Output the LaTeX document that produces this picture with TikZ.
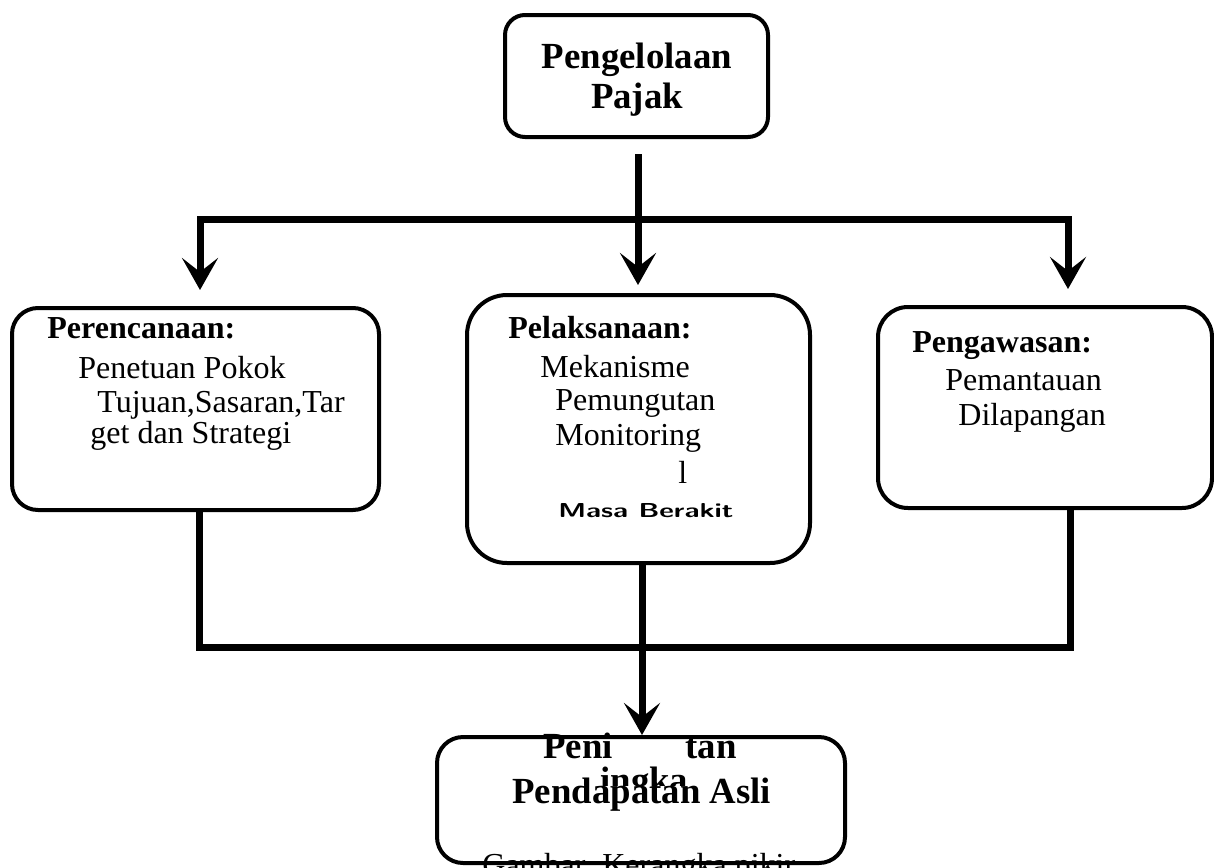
\documentclass[tikz,border=0pt]{standalone}
\usepackage{fontspec}
\setmainfont{Liberation Serif}
\usetikzlibrary{positioning, arrows.meta}
\tikzset{box/.style={draw, line width=2pt, inner sep=0pt},
         link/.style={line width=3.5pt},
         head/.style={-{Stealth[length=16pt, width=18pt, inset=7pt]}},
         txt/.style={anchor=base west, inner sep=0pt, font=\fontsize{16pt}{18pt}\selectfont},
         ttl/.style={anchor=base, inner sep=0pt, font=\fontsize{18.4pt}{20pt}\selectfont\bfseries}}

\begin{document}
\begin{tikzpicture}[x=0.5pt, y=-0.5pt]
    \useasboundingbox (0,0) rectangle (1214,867);

    \node[box, rounded corners=10pt, minimum width=131.5pt, minimum height=61pt] (1) at (636.5,76) {};
    \node[box, rounded corners=13pt, minimum width=183.5pt, minimum height=101pt] (2) at (195.5,409) {};
    \node[box, rounded corners=20pt, minimum width=171.5pt, minimum height=134pt] (3) at (638.5,429) {};
    \node[box, rounded corners=15pt, minimum width=167pt, minimum height=100.5pt] (4) at (1045,407.5) {};
    \node[box, rounded corners=13pt, minimum width=204pt, minimum height=63pt] (5) at (641,800) {};

    \coordinate (j1) at (638,219);
    \coordinate (j2) at (642,647);

    % arrows from the top box
    \draw[link, shorten <=7.5pt] (1.south -| j1) -- (j1);
    \draw[link, head, shorten >=8pt] (j1) -| ([xshift=2.25pt]2.north);
    \draw[link, head, shorten >=8pt] (j1) -| ([xshift=11.5pt]4.north);
    \draw[link, head, shorten >=4pt] (j1) -- (j1 |- 3.north);

    % back to the bottom box
    \draw[link] ([xshift=1.75pt]2.south) |- (j2) -| ([xshift=12.5pt]4.south);
    \draw[link, head] (3.south -| j2) -- (j2 |- 5.north);

    \node[ttl] (t1) at (637,68) {Pengelolaan};
    \node[ttl] (t2) at (637,108) {Pajak};

    \node[txt, font=\fontsize{16pt}{18pt}\selectfont\bfseries] (a1) at (47,338) {Perencanaan:};
    \node[txt] (a2) at (78,378) {Penetuan Pokok};
    \node[txt] (a3) at (97,412) {Tujuan,Sasaran,Tar};
    \node[txt] (a4) at (90,443) {get dan Strategi};

    \node[txt, font=\fontsize{16pt}{18pt}\selectfont\bfseries] (b1) at (508,338) {Pelaksanaan:};
    \node[txt] (b2) at (540,377) {Mekanisme};
    \node[txt] (b3) at (555,410) {Pemungutan};
    \node[txt] (b4) at (555,445) {Monitoring};
    \node[txt] (b5) at (678,483) {l};
    \node[txt] (b6) at (558,517) {\resizebox{87.5pt}{7pt}{\sffamily\bfseries Masa Berakit}};

    \node[txt, font=\fontsize{16pt}{18pt}\selectfont\bfseries] (c1) at (912,352) {Pengawasan:};
    \node[txt] (c2) at (945,390) {Pemantauan};
    \node[txt] (c3) at (958,425) {Dilapangan};

    \node[ttl, anchor=base west] (d1) at (543,758) {Peni};
    \node[ttl, anchor=base west] (d2) at (685,758) {tan};
    \begin{scope}
        \clip (598,763) rectangle (690,785);
        \node[ttl, anchor=base west] (d3) at (600,792) {ingka};
    \end{scope}
    \node[ttl, anchor=base west] (d4) at (512,803) {Pendapatan Asli};
    \node[txt] (d5) at (482,875) {Gambar. Kerangka pikir};
\end{tikzpicture}
\end{document}
